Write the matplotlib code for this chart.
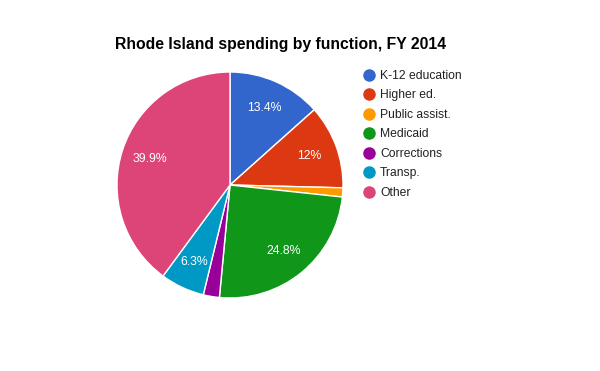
import matplotlib
matplotlib.use("Agg")
import matplotlib.pyplot as plt
from matplotlib.lines import Line2D

categories = ["K-12 education", "Higher ed.", "Public assist.", "Medicaid",
              "Corrections", "Transp.", "Other"]
values = [13.4, 12.0, 1.3, 24.8, 2.3, 6.3, 39.9]
colors = ["#3366cc", "#dc3912", "#ff9900", "#109618", "#990099", "#0099c6", "#dd4477"]
title = "Rhode Island spending by function, FY 2014"

plt.rcParams['font.family'] = ['Liberation Sans', 'DejaVu Sans']

fig = plt.figure(figsize=(6, 3.71), dpi=100)
W, H = 600, 371
cx, cy, r = 230, 185, 113
ax = fig.add_axes([(cx - r) / W, (H - cy - r) / H, 2 * r / W, 2 * r / H])

def fmt(p):
    if p < 5:
        return ""
    s = f"{p:.1f}".rstrip("0").rstrip(".")
    return s + "%"

wedges, texts, autotexts = ax.pie(
    values, colors=colors, startangle=90, counterclock=False,
    autopct=fmt, pctdistance=0.75, radius=1,
    wedgeprops=dict(edgecolor="white", linewidth=1),
    textprops=dict(color="white", fontsize=8.8))
ax.set_xlim(-1, 1)
ax.set_ylim(-1, 1)
ax.set_aspect("equal")
ax.axis("off")

fig.text(115 / W, 1 - 45 / H, title, fontsize=11.35, fontweight="bold",
         ha="left", va="center", color="black")

handles = [Line2D([], [], marker="o", linestyle="", markersize=8,
                  markerfacecolor=c, markeredgecolor=c) for c in colors]
fig.legend(handles, categories, loc="upper left",
           bbox_to_anchor=(363 / W, 1 - 70 / H), frameon=False,
           fontsize=8.7, labelcolor="#222222", handlelength=1.0,
           handletextpad=0.4, labelspacing=0.62, borderpad=0, borderaxespad=0)

fig.savefig("out.png", dpi=100)
